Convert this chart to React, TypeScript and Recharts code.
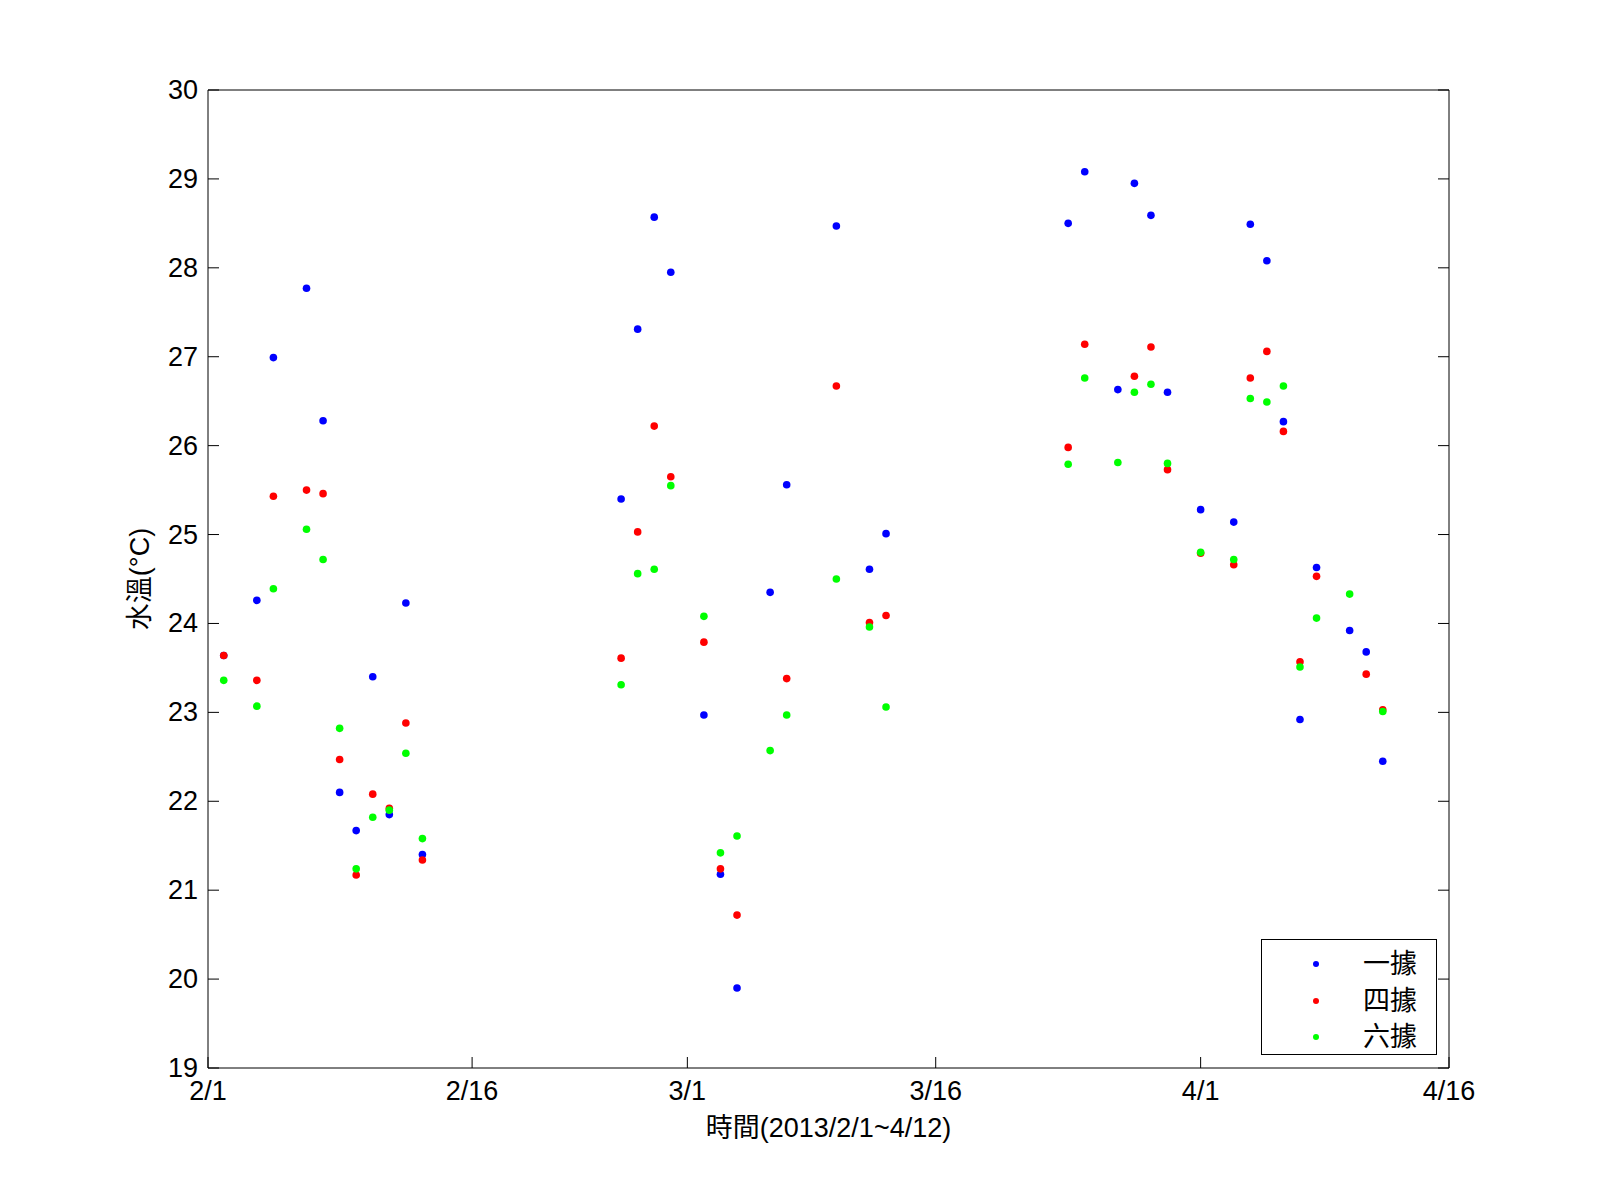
import React from 'react';
import { ScatterChart, Scatter, XAxis, YAxis } from 'recharts';

const dates = [
  '2/1', '2/3', '2/4', '2/6', '2/7', '2/8', '2/9', '2/10', '2/11', '2/12', '2/13',
  '2/25', '2/26', '2/27', '2/28', '3/2', '3/3', '3/4', '3/6', '3/7', '3/10', '3/12', '3/13',
  '3/24', '3/25', '3/27', '3/28', '3/29', '3/30', '4/1', '4/3', '4/4', '4/5', '4/6', '4/7', '4/8', '4/10', '4/11', '4/12',
];

// 一據
const station1 = [
  23.64, 24.26, 26.99, 27.77, 26.28, 22.10, 21.67, 23.40, 21.85, 24.23, 21.40,
  25.40, 27.31, 28.57, 27.95, 22.97, 21.18, 19.90, 24.35, 25.56, 28.47, 24.61, 25.01,
  28.50, 29.08, 26.63, 28.95, 28.59, 26.60, 25.28, 25.14, 28.49, 28.08, 26.27, 22.92, 24.63, 23.92, 23.68, 22.45,
];

// 四據
const station4 = [
  23.64, 23.36, 25.43, 25.50, 25.46, 22.47, 21.17, 22.08, 21.92, 22.88, 21.34,
  23.61, 25.03, 26.22, 25.65, 23.79, 21.24, 20.72, null, 23.38, 26.67, 24.01, 24.09,
  25.98, 27.14, null, 26.78, 27.11, 25.73, 24.79, 24.66, 26.76, 27.06, 26.16, 23.57, 24.53, null, 23.43, 23.03,
];

// 六據
const station6 = [
  23.36, 23.07, 24.39, 25.06, 24.72, 22.82, 21.24, 21.82, 21.90, 22.54, 21.58,
  23.31, 24.56, 24.61, 25.55, 24.08, 21.42, 21.61, 22.57, 22.97, 24.50, 23.96, 23.06,
  25.79, 26.76, 25.81, 26.60, 26.69, 25.80, 24.80, 24.72, 26.53, 26.49, 26.67, 23.51, 24.06, 24.33, null, 23.01,
];

const seriesNames = ['一據', '四據', '六據'];
const seriesColors = ['#0000ff', '#ff0000', '#00ff00'];
const seriesValues = [station1, station4, station6];

const xTickLabels = ['2/1', '2/16', '3/1', '3/16', '4/1', '4/16'];
const xTickValues = [-0.95, 15, 28, 43, 59, 74];
const xDomain = [-0.95, 74];
const yTicks = [19, 20, 21, 22, 23, 24, 25, 26, 27, 28, 29, 30];
const yDomain = [19, 30];

const xLabel = '時間(2013/2/1~4/12)';
const yLabel = '水溫(°C)';

const FONT = "'Liberation Sans', Arial, 'Noto Sans CJK TC', sans-serif";
const FS = 27;
const TICK_LEN = 11;
const Y_MARGIN = 10;
const X_MARGIN = 23;

function dayIndex(d: string): number {
  const [m, day] = d.split('/').map(Number);
  const monthStart: Record<number, number> = { 2: 0, 3: 28, 4: 59 };
  return monthStart[m] + day - 1;
}

function buildPoints(values: (number | null)[]) {
  return dates
    .map((d, i) => ({ x: dayIndex(d), y: values[i] }))
    .filter((p) => p.y !== null && p.y !== undefined);
}

const LeftTick = (props: any) => {
  const { x, y, payload } = props;
  return (
    <g>
      <line x1={x + Y_MARGIN} x2={x + Y_MARGIN + TICK_LEN} y1={y} y2={y} stroke="#000" strokeWidth={1} />
      <text x={x} y={y} textAnchor="end" dominantBaseline="central" fontFamily={FONT} fontSize={FS} fill="#000">
        {payload.value}
      </text>
    </g>
  );
};

const RightTick = (props: any) => {
  const { x, y } = props;
  return <line x1={x} x2={x - TICK_LEN} y1={y} y2={y} stroke="#000" strokeWidth={1} />;
};

const TopTick = (props: any) => {
  const { x, y } = props;
  return <line x1={x} x2={x} y1={y} y2={y + TICK_LEN} stroke="#000" strokeWidth={1} />;
};

const BottomTick = (props: any) => {
  const { x, y, payload, index } = props;
  return (
    <g>
      <line x1={x} x2={x} y1={y - X_MARGIN} y2={y - X_MARGIN - TICK_LEN} stroke="#000" strokeWidth={1} />
      <text x={x} y={y} textAnchor="middle" dominantBaseline="central" fontFamily={FONT} fontSize={FS} fill="#000">
        {xTickLabels[index] ?? payload.value}
      </text>
    </g>
  );
};

const makeDot = (color: string) => (props: any) => {
  const { cx, cy } = props;
  if (cx == null || cy == null) return <g />;
  return <circle cx={cx} cy={cy} r={3.8} fill={color} />;
};

const XLabelContent = (props: any) => {
  const vb = props.viewBox || {};
  return (
    <text
      x={vb.x + vb.width / 2}
      y={vb.y + 60}
      textAnchor="middle"
      dominantBaseline="central"
      fontFamily={FONT}
      fontSize={FS}
      fill="#000"
    >
      {xLabel}
    </text>
  );
};

const YLabelContent = (props: any) => {
  const vb = props.viewBox || {};
  const cx = vb.x + 32;
  const cy = vb.y + vb.height / 2;
  return (
    <text
      x={cx}
      y={cy}
      transform={`rotate(-90, ${cx}, ${cy})`}
      textAnchor="middle"
      dominantBaseline="central"
      fontFamily={FONT}
      fontSize={FS}
      fill="#000"
    >
      {yLabel}
    </text>
  );
};

const legendRows = [24, 61, 97];

export default function App() {
  return (
    <div style={{ position: 'relative', width: 1585, height: 1150, background: '#fff' }}>
      <ScatterChart width={1585} height={1150} margin={{ top: 81, right: 143, bottom: 30, left: 100 }}>
        <XAxis
          xAxisId="b"
          type="number"
          dataKey="x"
          domain={xDomain}
          ticks={xTickValues}
          interval={0}
          height={60}
          tickSize={0}
          tickMargin={X_MARGIN}
          tick={BottomTick}
          axisLine={{ stroke: '#000', strokeWidth: 1 }}
          tickLine={false}
          allowDataOverflow
          label={{ content: XLabelContent }}
        />
        <XAxis
          xAxisId="t"
          orientation="top"
          type="number"
          domain={xDomain}
          ticks={xTickValues}
          interval={0}
          height={1}
          tickSize={0}
          tickMargin={0}
          tick={TopTick}
          axisLine={{ stroke: '#000', strokeWidth: 1 }}
          tickLine={false}
          allowDataOverflow
        />
        <YAxis
          yAxisId="l"
          type="number"
          dataKey="y"
          domain={yDomain}
          ticks={yTicks}
          interval={0}
          width={100}
          tickSize={0}
          tickMargin={Y_MARGIN}
          tick={LeftTick}
          axisLine={{ stroke: '#000', strokeWidth: 1 }}
          tickLine={false}
          allowDataOverflow
          label={{ content: YLabelContent }}
        />
        <YAxis
          yAxisId="r"
          orientation="right"
          type="number"
          domain={yDomain}
          ticks={yTicks}
          interval={0}
          width={1}
          tickSize={0}
          tickMargin={0}
          tick={RightTick}
          axisLine={{ stroke: '#000', strokeWidth: 1 }}
          tickLine={false}
          allowDataOverflow
        />
        {seriesValues.map((vals, i) => (
          <Scatter
            key={seriesNames[i]}
            name={seriesNames[i]}
            xAxisId="b"
            yAxisId="l"
            data={buildPoints(vals)}
            fill={seriesColors[i]}
            shape={makeDot(seriesColors[i])}
            isAnimationActive={false}
          />
        ))}
      </ScatterChart>
      <div
        style={{
          position: 'absolute',
          left: 1253,
          top: 931,
          width: 176,
          height: 116,
          boxSizing: 'border-box',
          border: '1px solid #000',
          background: '#fff',
          fontFamily: FONT,
          fontSize: FS,
          color: '#000',
        }}
      >
        {seriesNames.map((name, i) => (
          <React.Fragment key={name}>
            <div
              style={{
                position: 'absolute',
                left: 51,
                top: legendRows[i] - 3,
                width: 6,
                height: 6,
                borderRadius: '50%',
                background: seriesColors[i],
              }}
            />
            <div
              style={{
                position: 'absolute',
                right: 19,
                top: legendRows[i] - 18,
                height: 36,
                lineHeight: '36px',
                whiteSpace: 'nowrap',
              }}
            >
              {name}
            </div>
          </React.Fragment>
        ))}
      </div>
    </div>
  );
}
